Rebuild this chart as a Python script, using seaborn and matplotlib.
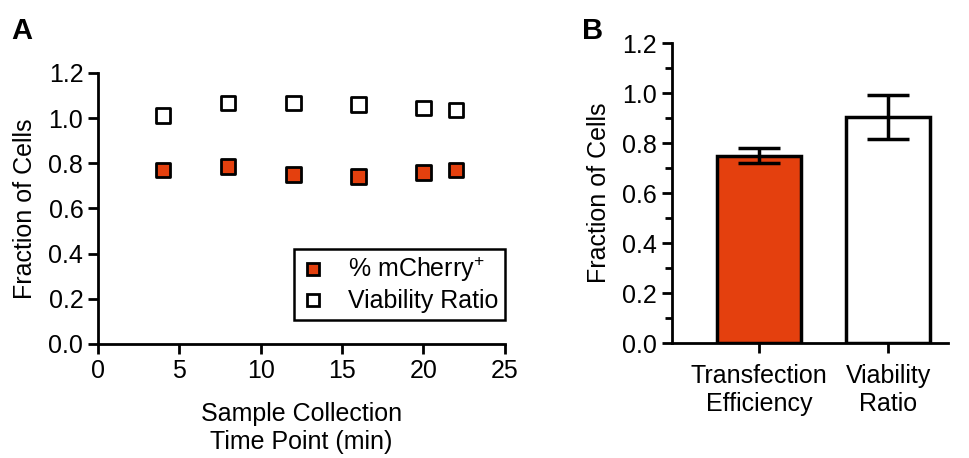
import matplotlib
matplotlib.use("Agg")
import matplotlib.pyplot as plt
import pandas as pd
import seaborn as sns

# panel A: time course
time_min = [4, 8, 12, 16, 20, 22]
mcherry_frac = [0.77, 0.785, 0.75, 0.74, 0.76, 0.77]
viability_frac = [1.01, 1.067, 1.067, 1.06, 1.045, 1.035]

# panel B: summary bars
bar_labels = ["Transfection\nEfficiency", "Viability\nRatio"]
bar_means = [0.75, 0.905]
bar_sd = [0.03, 0.087]

ORANGE = "#E4400E"
FS = 18

sns.set_theme(style="ticks")
plt.rcParams["font.family"] = ["Liberation Sans", "DejaVu Sans"]
plt.rcParams["mathtext.fontset"] = "custom"
plt.rcParams["mathtext.rm"] = "Liberation Sans"
plt.rcParams["mathtext.it"] = "Liberation Sans"
plt.rcParams["text.color"] = "black"
plt.rcParams["axes.labelcolor"] = "black"

fig = plt.figure(figsize=(9.69, 4.58), dpi=100)
ax_a = fig.add_axes([0.101, 0.249, 0.42, 0.592])
ax_b = fig.add_axes([0.693, 0.251, 0.285, 0.655])

# --- panel A
lab_m = "% mCherry$^{+}$"
lab_v = "Viability Ratio"
df_a = pd.DataFrame({
    "time": time_min * 2,
    "frac": mcherry_frac + viability_frac,
    "series": [lab_m] * len(time_min) + [lab_v] * len(time_min),
})
sns.scatterplot(
    data=df_a, x="time", y="frac", hue="series",
    palette={lab_m: ORANGE, lab_v: "white"},
    marker="s", s=110, edgecolor="black", linewidth=2, ax=ax_a, zorder=3,
)
ax_a.set_xlim(0, 25)
ax_a.set_ylim(0, 1.2)
ax_a.set_xticks([0, 5, 10, 15, 20, 25])
ax_a.set_yticks([0.0, 0.2, 0.4, 0.6, 0.8, 1.0, 1.2])
ax_a.set_yticklabels([f"{v:.1f}" for v in [0.0, 0.2, 0.4, 0.6, 0.8, 1.0, 1.2]])
ax_a.set_xlabel("Sample Collection\nTime Point (min)", fontsize=FS, labelpad=14)
ax_a.set_ylabel("Fraction of Cells", fontsize=FS, labelpad=8)
leg = ax_a.legend(loc="lower right", bbox_to_anchor=(1.0, 0.09), frameon=True,
                  fancybox=False, framealpha=1, fontsize=FS, handletextpad=0.9,
                  borderpad=0.25, markerscale=0.85, labelspacing=0.2,
                  handlelength=1.0, borderaxespad=0.0)
leg.get_frame().set_edgecolor("black")
leg.get_frame().set_linewidth(1.8)

# --- panel B
df_b = pd.DataFrame({"label": bar_labels, "mean": bar_means})
sns.barplot(
    data=df_b, x="label", y="mean", hue="label",
    palette={bar_labels[0]: ORANGE, bar_labels[1]: "white"}, saturation=1,
    edgecolor="black", linewidth=2.5, width=0.65, legend=False, ax=ax_b,
)
ax_b.errorbar(range(len(bar_means)), bar_means, yerr=bar_sd, fmt="none",
              ecolor="black", elinewidth=2.5, capsize=15, capthick=2.5, zorder=4)
ax_b.set_xlim(-0.68, 1.46)
ax_b.set_ylim(0, 1.2)
ax_b.set_yticks([0.0, 0.2, 0.4, 0.6, 0.8, 1.0, 1.2])
ax_b.set_yticklabels([f"{v:.1f}" for v in [0.0, 0.2, 0.4, 0.6, 0.8, 1.0, 1.2]])
ax_b.set_yticks([0.1, 0.3, 0.5, 0.7, 0.9, 1.1], minor=True)
ax_b.set_xlabel("")
ax_b.set_ylabel("Fraction of Cells", fontsize=FS, labelpad=8)

for ax in (ax_a, ax_b):
    sns.despine(ax=ax)
    for side in ("left", "bottom"):
        ax.spines[side].set_linewidth(2)
        ax.spines[side].set_color("black")
    ax.tick_params(axis="both", which="major", direction="out", length=7,
                   width=2, color="black", labelsize=FS, labelcolor="black")
    ax.tick_params(axis="y", which="minor", direction="out", length=5,
                   width=2, color="black")
ax_b.tick_params(axis="x", which="major", pad=8)

fig.text(0.012, 0.915, "A", fontsize=21, fontweight="bold")
fig.text(0.601, 0.915, "B", fontsize=21, fontweight="bold")

fig.savefig("out.png", dpi=100)
